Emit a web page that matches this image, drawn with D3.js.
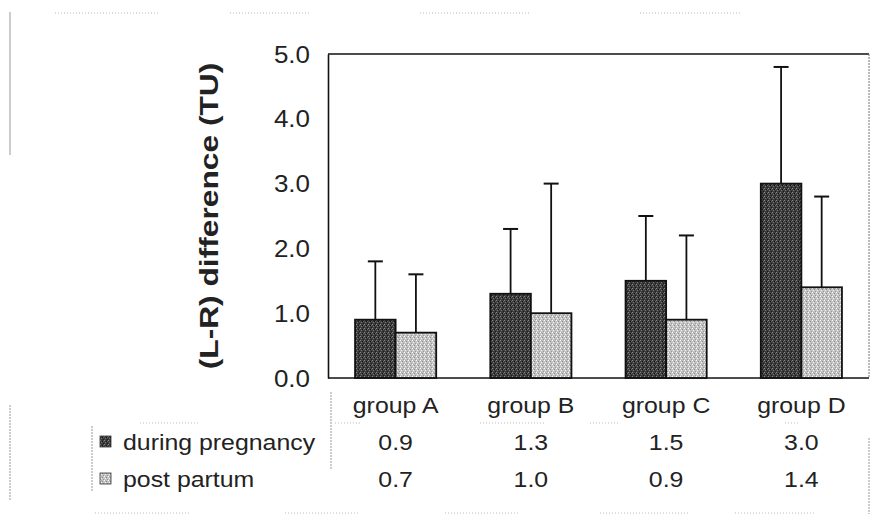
<!DOCTYPE html>
<html><head><meta charset="utf-8">
<script src="https://cdn.jsdelivr.net/npm/d3@7"></script>
<style>body{margin:0;background:#fff}svg{display:block}text{font-family:Arial,"Liberation Sans",sans-serif}</style>
</head><body><svg id="c" width="881" height="531"></svg>
<script>
const categories = ["group A","group B","group C","group D"];
const seriesNames = ["during pregnancy","post partum"];
const pregnancy = [0.9,1.3,1.5,3.0];
const postPartum = [0.7,1.0,0.9,1.4];
const pregnancyErr = [0.9,1.0,1.0,1.8];
const postPartumErr = [0.9,2.0,1.3,1.4];
const yTicks = [0,1,2,3,4,5];

const svg = d3.select("#c");
const L=328, R=869, T=54, B=378;
const SX = 1.13, FS = 22;
const x = d3.scaleBand().domain(categories).range([L,R]).paddingInner(0.4).paddingOuter(0.2);
const xs = d3.scaleBand().domain(seriesNames).range([0,x.bandwidth()]);
const y = d3.scaleLinear().domain([0,5]).range([B,T]);

// patterns
const defs = svg.append("defs");
function pat(id, base, dots){
  const p = defs.append("pattern").attr("id",id).attr("width",4).attr("height",4).attr("patternUnits","userSpaceOnUse");
  p.append("rect").attr("width",4).attr("height",4).attr("fill",base);
  dots.forEach(([dx,dy,c])=>p.append("rect").attr("x",dx).attr("y",dy).attr("width",1).attr("height",1).attr("fill",c));
}
pat("pDark","#3c3c3c",[[0,0,"#8a8a8a"],[2,1,"#111"],[1,2,"#777"],[3,3,"#1a1a1a"],[3,1,"#666"]]);
pat("pLight","#c4c4c4",[[0,0,"#ffffff"],[2,1,"#888"],[1,2,"#f0f0f0"],[3,3,"#999"],[1,0,"#aaa"]]);
const fills = {"during pregnancy":"url(#pDark)","post partum":"url(#pLight)"};

function hText(sel, px, py, anchor){
  return sel.attr("transform",`translate(${px},${py}) scale(${SX},1)`).attr("text-anchor",anchor||"start")
    .attr("font-size",FS).attr("fill","#222");
}

// scan frame artifacts
const faint = "#bbb";
svg.append("line").attr("x1",10).attr("x2",10).attr("y1",12).attr("y2",155).attr("stroke","#999").attr("stroke-width",1);
svg.append("line").attr("x1",10).attr("x2",10).attr("y1",405).attr("y2",500).attr("stroke","#999").attr("stroke-width",1).attr("stroke-dasharray","2,1");
[[55,160],[230,310],[420,530],[640,740]].forEach(([a,b])=>svg.append("line").attr("x1",a).attr("x2",b).attr("y1",13).attr("y2",13).attr("stroke",faint).attr("stroke-dasharray","1,2"));

// plot frame
svg.append("line").attr("x1",L).attr("x2",R).attr("y1",T).attr("y2",T).attr("stroke","#111").attr("stroke-width",1.6);
svg.append("line").attr("x1",R).attr("x2",R).attr("y1",T).attr("y2",B).attr("stroke","#777").attr("stroke-width",1).attr("stroke-dasharray","2,1");
svg.append("line").attr("x1",L).attr("x2",R).attr("y1",B).attr("y2",B).attr("stroke","#111").attr("stroke-width",1.6);

// y axis
const ax = svg.append("g").attr("transform",`translate(${L},0)`)
  .call(d3.axisLeft(y).tickValues(yTicks).tickFormat(d3.format(".1f")).tickSize(0));
ax.select(".domain").attr("stroke","#111").attr("stroke-width",1.6);
ax.selectAll(".tick text").each(function(){
  const t = d3.select(this);
  t.attr("x",null).attr("dy",null);
  hText(t, -18, 8, "end");
  t.attr("font-size",23).attr("font-family","Arial");
});

// y label
svg.append("text").attr("transform",`translate(217.5,216) rotate(-90) scale(1.22,1)`).attr("text-anchor","middle")
  .attr("font-size",26).attr("font-weight","bold").attr("fill","#222").text("(L-R) difference (TU)");

// bars
const data = categories.map((c,i)=>[
  {c, s:seriesNames[0], v:pregnancy[i], e:pregnancyErr[i]},
  {c, s:seriesNames[1], v:postPartum[i], e:postPartumErr[i]}
]).flat();

const g = svg.append("g");
data.forEach(d=>{
  const cx = x(d.c)+xs(d.s)+xs.bandwidth()/2;
  g.append("line").attr("x1",cx).attr("x2",cx).attr("y1",y(d.v)).attr("y2",y(d.v+d.e)).attr("stroke","#111").attr("stroke-width",1.8);
  g.append("line").attr("x1",cx-7.5).attr("x2",cx+7.5).attr("y1",y(d.v+d.e)).attr("y2",y(d.v+d.e)).attr("stroke","#111").attr("stroke-width",2);
});
g.selectAll("rect.bar").data(data).join("rect").attr("class","bar")
  .attr("x",d=>x(d.c)+xs(d.s)).attr("width",xs.bandwidth())
  .attr("y",d=>y(d.v)).attr("height",d=>B-y(d.v))
  .attr("fill",d=>fills[d.s]).attr("stroke","#111").attr("stroke-width",1.8);

// category labels
categories.forEach(c=>{
  hText(svg.append("text"), x(c)+x.bandwidth()/2, 413, "middle").text(c);
});

// data table
const rowsY = [450, 487];
const rows = [pregnancy, postPartum];
rows.forEach((vals,ri)=>{
  vals.forEach((v,i)=>{
    hText(svg.append("text"), x(categories[i])+x.bandwidth()/2, rowsY[ri], "middle").text(d3.format(".1f")(v));
  });
  svg.append("rect").attr("x",100).attr("y",rowsY[ri]-14).attr("width",11).attr("height",11)
    .attr("fill",fills[seriesNames[ri]]).attr("stroke","#333").attr("stroke-width",0.8);
  hText(svg.append("text"), 123, rowsY[ri], "start").text(seriesNames[ri]);
});
// faint table lines
svg.append("line").attr("x1",331).attr("x2",331).attr("y1",392).attr("y2",470).attr("stroke","#999").attr("stroke-dasharray","2,1");
svg.append("line").attr("x1",92).attr("x2",92).attr("y1",426).attr("y2",492).attr("stroke","#999").attr("stroke-dasharray","2,1");
svg.append("line").attr("x1",869).attr("x2",869).attr("y1",438).attr("y2",514).attr("stroke","#999").attr("stroke-dasharray","2,1");
[[140,200],[335,360],[480,545],[590,620],[785,800]].forEach(([a,b])=>svg.append("line").attr("x1",a).attr("x2",b).attr("y1",423).attr("y2",423).attr("stroke",faint).attr("stroke-dasharray","1,2"));
[[95,190],[285,360],[445,520],[600,690],[735,815]].forEach(([a,b])=>svg.append("line").attr("x1",a).attr("x2",b).attr("y1",513).attr("y2",513).attr("stroke",faint).attr("stroke-dasharray","1,2"));
</script></body></html>
